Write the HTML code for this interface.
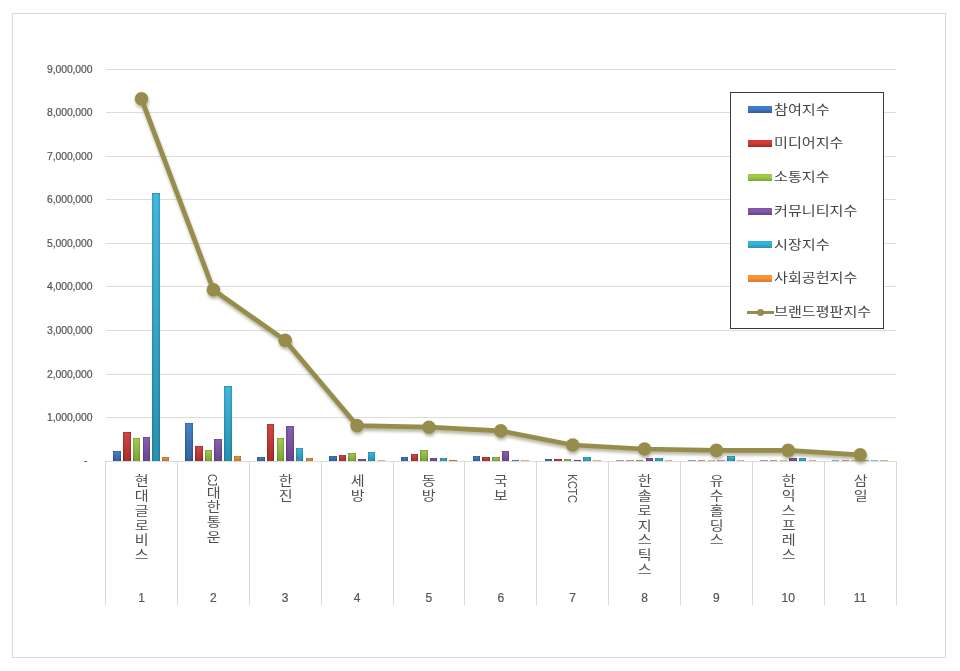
<!DOCTYPE html>
<html lang="ko"><head><meta charset="utf-8"><title>브랜드평판지수</title>
<style>
html,body{margin:0;padding:0;background:#fff;}
body{filter:blur(0.3px);width:960px;height:671px;position:relative;overflow:hidden;font-family:"Liberation Sans","Noto Sans CJK KR",sans-serif;}
.frame{position:absolute;left:12px;top:13px;width:932px;height:643px;border:1px solid #d9d9d9;}
.g{position:absolute;left:105.6px;width:790.4px;height:1px;background:#dcdcdc;}
.yl{position:absolute;left:30px;width:62.4px;text-align:right;font-size:10.4px;line-height:12px;color:#555;letter-spacing:-0.1px;-webkit-text-stroke:0.2px #555;}
.dv{position:absolute;top:461.2px;width:1px;height:144px;background:#d9d9d9;}
.b{position:absolute;width:7.5px;}
.cl{position:absolute;top:474.3px;width:20px;writing-mode:vertical-rl;text-orientation:mixed;font-size:12.8px;line-height:20px;color:#505050;white-space:nowrap;letter-spacing:2.0px;transform:scaleX(1.18);transform-origin:50% 0;}
.cl i{font-style:normal;font-size:10.9px;letter-spacing:-1.0px;position:relative;left:0.9px;}
.num{position:absolute;top:590.7px;width:40px;text-align:center;font-size:12px;line-height:14px;color:#555;-webkit-text-stroke:0.2px #555;}
.lg{position:absolute;left:730px;top:92px;width:151.5px;height:235px;border:1.5px solid #3a3a3a;background:#fff;}
.sw{position:absolute;left:748px;width:24px;height:7px;}
.lt{position:absolute;left:774.3px;font-size:12.8px;line-height:18px;color:#444;white-space:nowrap;transform:scaleX(1.18);transform-origin:0 50%;}
svg{position:absolute;left:0;top:0;}
</style></head><body>
<div class="frame"></div>

<div class="g" style="top:460.7px"></div>
<div class="yl" style="top:454.7px;left:25px">-</div>
<div class="g" style="top:417.1px"></div>
<div class="yl" style="top:412.0px">1,000,000</div>
<div class="g" style="top:373.6px"></div>
<div class="yl" style="top:368.5px">2,000,000</div>
<div class="g" style="top:330.0px"></div>
<div class="yl" style="top:324.9px">3,000,000</div>
<div class="g" style="top:286.4px"></div>
<div class="yl" style="top:281.3px">4,000,000</div>
<div class="g" style="top:242.9px"></div>
<div class="yl" style="top:237.8px">5,000,000</div>
<div class="g" style="top:199.3px"></div>
<div class="yl" style="top:194.2px">6,000,000</div>
<div class="g" style="top:155.7px"></div>
<div class="yl" style="top:150.6px">7,000,000</div>
<div class="g" style="top:112.2px"></div>
<div class="yl" style="top:107.1px">8,000,000</div>
<div class="g" style="top:68.6px"></div>
<div class="yl" style="top:63.5px">9,000,000</div>
<div class="dv" style="left:105.1px"></div>
<div class="dv" style="left:177.0px"></div>
<div class="dv" style="left:248.8px"></div>
<div class="dv" style="left:320.7px"></div>
<div class="dv" style="left:392.5px"></div>
<div class="dv" style="left:464.4px"></div>
<div class="dv" style="left:536.2px"></div>
<div class="dv" style="left:608.1px"></div>
<div class="dv" style="left:679.9px"></div>
<div class="dv" style="left:751.8px"></div>
<div class="dv" style="left:823.6px"></div>
<div class="dv" style="left:895.5px"></div>
<div class="b" style="left:113.4px;top:451.2px;height:10.0px;background:linear-gradient(180deg,rgba(0,0,0,.22) 0,rgba(0,0,0,0) 1.6px),linear-gradient(180deg,rgba(255,255,255,.06),rgba(0,0,0,.2)),linear-gradient(90deg,#2c5d98 0,#3d7bc6 25%,#3d7bc6 75%,#2c5d98 100%);"></div>
<div class="b" style="left:123.1px;top:431.8px;height:29.4px;background:linear-gradient(180deg,rgba(0,0,0,.22) 0,rgba(0,0,0,0) 1.6px),linear-gradient(180deg,rgba(255,255,255,.06),rgba(0,0,0,.2)),linear-gradient(90deg,#a1292b 0,#d23b36 25%,#d23b36 75%,#a1292b 100%);"></div>
<div class="b" style="left:132.8px;top:438.4px;height:22.8px;background:linear-gradient(180deg,rgba(0,0,0,.22) 0,rgba(0,0,0,0) 1.6px),linear-gradient(180deg,rgba(255,255,255,.06),rgba(0,0,0,.2)),linear-gradient(90deg,#7da23a 0,#9eca44 25%,#9eca44 75%,#7da23a 100%);"></div>
<div class="b" style="left:142.5px;top:437.4px;height:23.8px;background:linear-gradient(180deg,rgba(0,0,0,.22) 0,rgba(0,0,0,0) 1.6px),linear-gradient(180deg,rgba(255,255,255,.06),rgba(0,0,0,.2)),linear-gradient(90deg,#62418a 0,#8258ae 25%,#8258ae 75%,#62418a 100%);"></div>
<div class="b" style="left:152.2px;top:192.9px;height:268.3px;background:linear-gradient(180deg,rgba(0,0,0,.22) 0,rgba(0,0,0,0) 1.6px),linear-gradient(180deg,rgba(255,255,255,.06),rgba(0,0,0,.2)),linear-gradient(90deg,#2a90ae 0,#33b4de 25%,#33b4de 75%,#2a90ae 100%);"></div>
<div class="b" style="left:161.9px;top:456.8px;height:4.4px;background:linear-gradient(180deg,rgba(0,0,0,.22) 0,rgba(0,0,0,0) 1.6px),linear-gradient(180deg,rgba(255,255,255,.06),rgba(0,0,0,.2)),linear-gradient(90deg,#d97a22 0,#f7933a 25%,#f7933a 75%,#d97a22 100%);"></div>
<div class="cl" style="left:130.0px">현대글로비스</div>
<div class="num" style="left:121.5px">1</div>
<div class="b" style="left:185.3px;top:422.7px;height:38.5px;background:linear-gradient(180deg,rgba(0,0,0,.22) 0,rgba(0,0,0,0) 1.6px),linear-gradient(180deg,rgba(255,255,255,.06),rgba(0,0,0,.2)),linear-gradient(90deg,#2c5d98 0,#3d7bc6 25%,#3d7bc6 75%,#2c5d98 100%);"></div>
<div class="b" style="left:195.0px;top:445.8px;height:15.4px;background:linear-gradient(180deg,rgba(0,0,0,.22) 0,rgba(0,0,0,0) 1.6px),linear-gradient(180deg,rgba(255,255,255,.06),rgba(0,0,0,.2)),linear-gradient(90deg,#a1292b 0,#d23b36 25%,#d23b36 75%,#a1292b 100%);"></div>
<div class="b" style="left:204.7px;top:450.3px;height:10.9px;background:linear-gradient(180deg,rgba(0,0,0,.22) 0,rgba(0,0,0,0) 1.6px),linear-gradient(180deg,rgba(255,255,255,.06),rgba(0,0,0,.2)),linear-gradient(90deg,#7da23a 0,#9eca44 25%,#9eca44 75%,#7da23a 100%);"></div>
<div class="b" style="left:214.4px;top:439.3px;height:21.9px;background:linear-gradient(180deg,rgba(0,0,0,.22) 0,rgba(0,0,0,0) 1.6px),linear-gradient(180deg,rgba(255,255,255,.06),rgba(0,0,0,.2)),linear-gradient(90deg,#62418a 0,#8258ae 25%,#8258ae 75%,#62418a 100%);"></div>
<div class="b" style="left:224.1px;top:386.4px;height:74.8px;background:linear-gradient(180deg,rgba(0,0,0,.22) 0,rgba(0,0,0,0) 1.6px),linear-gradient(180deg,rgba(255,255,255,.06),rgba(0,0,0,.2)),linear-gradient(90deg,#2a90ae 0,#33b4de 25%,#33b4de 75%,#2a90ae 100%);"></div>
<div class="b" style="left:233.8px;top:455.9px;height:5.2px;background:linear-gradient(180deg,rgba(0,0,0,.22) 0,rgba(0,0,0,0) 1.6px),linear-gradient(180deg,rgba(255,255,255,.06),rgba(0,0,0,.2)),linear-gradient(90deg,#d97a22 0,#f7933a 25%,#f7933a 75%,#d97a22 100%);"></div>
<div class="cl" style="left:201.9px"><i>CJ</i>대한통운</div>
<div class="num" style="left:193.4px">2</div>
<div class="b" style="left:257.1px;top:457.1px;height:4.1px;background:linear-gradient(180deg,rgba(0,0,0,.22) 0,rgba(0,0,0,0) 1.6px),linear-gradient(180deg,rgba(255,255,255,.06),rgba(0,0,0,.2)),linear-gradient(90deg,#2c5d98 0,#3d7bc6 25%,#3d7bc6 75%,#2c5d98 100%);"></div>
<div class="b" style="left:266.8px;top:423.7px;height:37.5px;background:linear-gradient(180deg,rgba(0,0,0,.22) 0,rgba(0,0,0,0) 1.6px),linear-gradient(180deg,rgba(255,255,255,.06),rgba(0,0,0,.2)),linear-gradient(90deg,#a1292b 0,#d23b36 25%,#d23b36 75%,#a1292b 100%);"></div>
<div class="b" style="left:276.5px;top:438.4px;height:22.8px;background:linear-gradient(180deg,rgba(0,0,0,.22) 0,rgba(0,0,0,0) 1.6px),linear-gradient(180deg,rgba(255,255,255,.06),rgba(0,0,0,.2)),linear-gradient(90deg,#7da23a 0,#9eca44 25%,#9eca44 75%,#7da23a 100%);"></div>
<div class="b" style="left:286.2px;top:426.4px;height:34.8px;background:linear-gradient(180deg,rgba(0,0,0,.22) 0,rgba(0,0,0,0) 1.6px),linear-gradient(180deg,rgba(255,255,255,.06),rgba(0,0,0,.2)),linear-gradient(90deg,#62418a 0,#8258ae 25%,#8258ae 75%,#62418a 100%);"></div>
<div class="b" style="left:295.9px;top:448.4px;height:12.8px;background:linear-gradient(180deg,rgba(0,0,0,.22) 0,rgba(0,0,0,0) 1.6px),linear-gradient(180deg,rgba(255,255,255,.06),rgba(0,0,0,.2)),linear-gradient(90deg,#2a90ae 0,#33b4de 25%,#33b4de 75%,#2a90ae 100%);"></div>
<div class="b" style="left:305.6px;top:457.7px;height:3.5px;background:linear-gradient(180deg,rgba(0,0,0,.22) 0,rgba(0,0,0,0) 1.6px),linear-gradient(180deg,rgba(255,255,255,.06),rgba(0,0,0,.2)),linear-gradient(90deg,#d97a22 0,#f7933a 25%,#f7933a 75%,#d97a22 100%);"></div>
<div class="cl" style="left:273.7px">한진</div>
<div class="num" style="left:265.2px">3</div>
<div class="b" style="left:329.0px;top:456.2px;height:5.0px;background:linear-gradient(180deg,rgba(0,0,0,.22) 0,rgba(0,0,0,0) 1.6px),linear-gradient(180deg,rgba(255,255,255,.06),rgba(0,0,0,.2)),linear-gradient(90deg,#2c5d98 0,#3d7bc6 25%,#3d7bc6 75%,#2c5d98 100%);"></div>
<div class="b" style="left:338.7px;top:454.9px;height:6.2px;background:linear-gradient(180deg,rgba(0,0,0,.22) 0,rgba(0,0,0,0) 1.6px),linear-gradient(180deg,rgba(255,255,255,.06),rgba(0,0,0,.2)),linear-gradient(90deg,#a1292b 0,#d23b36 25%,#d23b36 75%,#a1292b 100%);"></div>
<div class="b" style="left:348.4px;top:453.4px;height:7.8px;background:linear-gradient(180deg,rgba(0,0,0,.22) 0,rgba(0,0,0,0) 1.6px),linear-gradient(180deg,rgba(255,255,255,.06),rgba(0,0,0,.2)),linear-gradient(90deg,#7da23a 0,#9eca44 25%,#9eca44 75%,#7da23a 100%);"></div>
<div class="b" style="left:358.1px;top:458.7px;height:2.5px;background:linear-gradient(180deg,rgba(0,0,0,.22) 0,rgba(0,0,0,0) 1.6px),linear-gradient(180deg,rgba(255,255,255,.06),rgba(0,0,0,.2)),linear-gradient(90deg,#62418a 0,#8258ae 25%,#8258ae 75%,#62418a 100%);"></div>
<div class="b" style="left:367.8px;top:452.4px;height:8.8px;background:linear-gradient(180deg,rgba(0,0,0,.22) 0,rgba(0,0,0,0) 1.6px),linear-gradient(180deg,rgba(255,255,255,.06),rgba(0,0,0,.2)),linear-gradient(90deg,#2a90ae 0,#33b4de 25%,#33b4de 75%,#2a90ae 100%);"></div>
<div class="b" style="left:377.5px;top:460.2px;height:1.0px;background:linear-gradient(180deg,rgba(0,0,0,.22) 0,rgba(0,0,0,0) 1.6px),linear-gradient(180deg,rgba(255,255,255,.06),rgba(0,0,0,.2)),linear-gradient(90deg,#d97a22 0,#f7933a 25%,#f7933a 75%,#d97a22 100%); opacity:.55;"></div>
<div class="cl" style="left:345.6px">세방</div>
<div class="num" style="left:337.1px">4</div>
<div class="b" style="left:400.8px;top:456.8px;height:4.4px;background:linear-gradient(180deg,rgba(0,0,0,.22) 0,rgba(0,0,0,0) 1.6px),linear-gradient(180deg,rgba(255,255,255,.06),rgba(0,0,0,.2)),linear-gradient(90deg,#2c5d98 0,#3d7bc6 25%,#3d7bc6 75%,#2c5d98 100%);"></div>
<div class="b" style="left:410.5px;top:454.1px;height:7.1px;background:linear-gradient(180deg,rgba(0,0,0,.22) 0,rgba(0,0,0,0) 1.6px),linear-gradient(180deg,rgba(255,255,255,.06),rgba(0,0,0,.2)),linear-gradient(90deg,#a1292b 0,#d23b36 25%,#d23b36 75%,#a1292b 100%);"></div>
<div class="b" style="left:420.2px;top:450.3px;height:10.9px;background:linear-gradient(180deg,rgba(0,0,0,.22) 0,rgba(0,0,0,0) 1.6px),linear-gradient(180deg,rgba(255,255,255,.06),rgba(0,0,0,.2)),linear-gradient(90deg,#7da23a 0,#9eca44 25%,#9eca44 75%,#7da23a 100%);"></div>
<div class="b" style="left:429.9px;top:457.7px;height:3.5px;background:linear-gradient(180deg,rgba(0,0,0,.22) 0,rgba(0,0,0,0) 1.6px),linear-gradient(180deg,rgba(255,255,255,.06),rgba(0,0,0,.2)),linear-gradient(90deg,#62418a 0,#8258ae 25%,#8258ae 75%,#62418a 100%);"></div>
<div class="b" style="left:439.6px;top:457.7px;height:3.5px;background:linear-gradient(180deg,rgba(0,0,0,.22) 0,rgba(0,0,0,0) 1.6px),linear-gradient(180deg,rgba(255,255,255,.06),rgba(0,0,0,.2)),linear-gradient(90deg,#2a90ae 0,#33b4de 25%,#33b4de 75%,#2a90ae 100%);"></div>
<div class="b" style="left:449.3px;top:459.7px;height:1.5px;background:linear-gradient(180deg,rgba(0,0,0,.22) 0,rgba(0,0,0,0) 1.6px),linear-gradient(180deg,rgba(255,255,255,.06),rgba(0,0,0,.2)),linear-gradient(90deg,#d97a22 0,#f7933a 25%,#f7933a 75%,#d97a22 100%);"></div>
<div class="cl" style="left:417.4px">동방</div>
<div class="num" style="left:408.9px">5</div>
<div class="b" style="left:472.7px;top:455.9px;height:5.2px;background:linear-gradient(180deg,rgba(0,0,0,.22) 0,rgba(0,0,0,0) 1.6px),linear-gradient(180deg,rgba(255,255,255,.06),rgba(0,0,0,.2)),linear-gradient(90deg,#2c5d98 0,#3d7bc6 25%,#3d7bc6 75%,#2c5d98 100%);"></div>
<div class="b" style="left:482.4px;top:456.8px;height:4.4px;background:linear-gradient(180deg,rgba(0,0,0,.22) 0,rgba(0,0,0,0) 1.6px),linear-gradient(180deg,rgba(255,255,255,.06),rgba(0,0,0,.2)),linear-gradient(90deg,#a1292b 0,#d23b36 25%,#d23b36 75%,#a1292b 100%);"></div>
<div class="b" style="left:492.1px;top:456.8px;height:4.4px;background:linear-gradient(180deg,rgba(0,0,0,.22) 0,rgba(0,0,0,0) 1.6px),linear-gradient(180deg,rgba(255,255,255,.06),rgba(0,0,0,.2)),linear-gradient(90deg,#7da23a 0,#9eca44 25%,#9eca44 75%,#7da23a 100%);"></div>
<div class="b" style="left:501.8px;top:451.2px;height:10.0px;background:linear-gradient(180deg,rgba(0,0,0,.22) 0,rgba(0,0,0,0) 1.6px),linear-gradient(180deg,rgba(255,255,255,.06),rgba(0,0,0,.2)),linear-gradient(90deg,#62418a 0,#8258ae 25%,#8258ae 75%,#62418a 100%);"></div>
<div class="b" style="left:511.5px;top:459.7px;height:1.5px;background:linear-gradient(180deg,rgba(0,0,0,.22) 0,rgba(0,0,0,0) 1.6px),linear-gradient(180deg,rgba(255,255,255,.06),rgba(0,0,0,.2)),linear-gradient(90deg,#2a90ae 0,#33b4de 25%,#33b4de 75%,#2a90ae 100%);"></div>
<div class="b" style="left:521.2px;top:460.3px;height:0.9px;background:linear-gradient(180deg,rgba(0,0,0,.22) 0,rgba(0,0,0,0) 1.6px),linear-gradient(180deg,rgba(255,255,255,.06),rgba(0,0,0,.2)),linear-gradient(90deg,#d97a22 0,#f7933a 25%,#f7933a 75%,#d97a22 100%); opacity:.55;"></div>
<div class="cl" style="left:489.3px">국보</div>
<div class="num" style="left:480.8px">6</div>
<div class="b" style="left:544.5px;top:458.7px;height:2.5px;background:linear-gradient(180deg,rgba(0,0,0,.22) 0,rgba(0,0,0,0) 1.6px),linear-gradient(180deg,rgba(255,255,255,.06),rgba(0,0,0,.2)),linear-gradient(90deg,#2c5d98 0,#3d7bc6 25%,#3d7bc6 75%,#2c5d98 100%);"></div>
<div class="b" style="left:554.2px;top:458.7px;height:2.5px;background:linear-gradient(180deg,rgba(0,0,0,.22) 0,rgba(0,0,0,0) 1.6px),linear-gradient(180deg,rgba(255,255,255,.06),rgba(0,0,0,.2)),linear-gradient(90deg,#a1292b 0,#d23b36 25%,#d23b36 75%,#a1292b 100%);"></div>
<div class="b" style="left:563.9px;top:458.7px;height:2.5px;background:linear-gradient(180deg,rgba(0,0,0,.22) 0,rgba(0,0,0,0) 1.6px),linear-gradient(180deg,rgba(255,255,255,.06),rgba(0,0,0,.2)),linear-gradient(90deg,#7da23a 0,#9eca44 25%,#9eca44 75%,#7da23a 100%);"></div>
<div class="b" style="left:573.6px;top:459.7px;height:1.5px;background:linear-gradient(180deg,rgba(0,0,0,.22) 0,rgba(0,0,0,0) 1.6px),linear-gradient(180deg,rgba(255,255,255,.06),rgba(0,0,0,.2)),linear-gradient(90deg,#62418a 0,#8258ae 25%,#8258ae 75%,#62418a 100%);"></div>
<div class="b" style="left:583.3px;top:456.8px;height:4.4px;background:linear-gradient(180deg,rgba(0,0,0,.22) 0,rgba(0,0,0,0) 1.6px),linear-gradient(180deg,rgba(255,255,255,.06),rgba(0,0,0,.2)),linear-gradient(90deg,#2a90ae 0,#33b4de 25%,#33b4de 75%,#2a90ae 100%);"></div>
<div class="b" style="left:593.0px;top:460.3px;height:0.9px;background:linear-gradient(180deg,rgba(0,0,0,.22) 0,rgba(0,0,0,0) 1.6px),linear-gradient(180deg,rgba(255,255,255,.06),rgba(0,0,0,.2)),linear-gradient(90deg,#d97a22 0,#f7933a 25%,#f7933a 75%,#d97a22 100%); opacity:.55;"></div>
<div class="cl" style="left:561.2px"><i style="letter-spacing:-0.3px;left:1.2px">KCTC</i></div>
<div class="num" style="left:552.7px">7</div>
<div class="b" style="left:616.4px;top:460.3px;height:0.9px;background:linear-gradient(180deg,rgba(0,0,0,.22) 0,rgba(0,0,0,0) 1.6px),linear-gradient(180deg,rgba(255,255,255,.06),rgba(0,0,0,.2)),linear-gradient(90deg,#2c5d98 0,#3d7bc6 25%,#3d7bc6 75%,#2c5d98 100%); opacity:.55;"></div>
<div class="b" style="left:626.1px;top:460.3px;height:0.9px;background:linear-gradient(180deg,rgba(0,0,0,.22) 0,rgba(0,0,0,0) 1.6px),linear-gradient(180deg,rgba(255,255,255,.06),rgba(0,0,0,.2)),linear-gradient(90deg,#a1292b 0,#d23b36 25%,#d23b36 75%,#a1292b 100%); opacity:.55;"></div>
<div class="b" style="left:635.8px;top:460.0px;height:1.2px;background:linear-gradient(180deg,rgba(0,0,0,.22) 0,rgba(0,0,0,0) 1.6px),linear-gradient(180deg,rgba(255,255,255,.06),rgba(0,0,0,.2)),linear-gradient(90deg,#7da23a 0,#9eca44 25%,#9eca44 75%,#7da23a 100%);"></div>
<div class="b" style="left:645.5px;top:457.7px;height:3.5px;background:linear-gradient(180deg,rgba(0,0,0,.22) 0,rgba(0,0,0,0) 1.6px),linear-gradient(180deg,rgba(255,255,255,.06),rgba(0,0,0,.2)),linear-gradient(90deg,#62418a 0,#8258ae 25%,#8258ae 75%,#62418a 100%);"></div>
<div class="b" style="left:655.2px;top:458.4px;height:2.8px;background:linear-gradient(180deg,rgba(0,0,0,.22) 0,rgba(0,0,0,0) 1.6px),linear-gradient(180deg,rgba(255,255,255,.06),rgba(0,0,0,.2)),linear-gradient(90deg,#2a90ae 0,#33b4de 25%,#33b4de 75%,#2a90ae 100%);"></div>
<div class="b" style="left:664.9px;top:460.3px;height:0.9px;background:linear-gradient(180deg,rgba(0,0,0,.22) 0,rgba(0,0,0,0) 1.6px),linear-gradient(180deg,rgba(255,255,255,.06),rgba(0,0,0,.2)),linear-gradient(90deg,#d97a22 0,#f7933a 25%,#f7933a 75%,#d97a22 100%); opacity:.55;"></div>
<div class="cl" style="left:633.0px">한솔로지스틱스</div>
<div class="num" style="left:624.5px">8</div>
<div class="b" style="left:688.2px;top:460.3px;height:0.9px;background:linear-gradient(180deg,rgba(0,0,0,.22) 0,rgba(0,0,0,0) 1.6px),linear-gradient(180deg,rgba(255,255,255,.06),rgba(0,0,0,.2)),linear-gradient(90deg,#2c5d98 0,#3d7bc6 25%,#3d7bc6 75%,#2c5d98 100%); opacity:.55;"></div>
<div class="b" style="left:697.9px;top:460.3px;height:0.9px;background:linear-gradient(180deg,rgba(0,0,0,.22) 0,rgba(0,0,0,0) 1.6px),linear-gradient(180deg,rgba(255,255,255,.06),rgba(0,0,0,.2)),linear-gradient(90deg,#a1292b 0,#d23b36 25%,#d23b36 75%,#a1292b 100%); opacity:.55;"></div>
<div class="b" style="left:707.6px;top:460.3px;height:0.9px;background:linear-gradient(180deg,rgba(0,0,0,.22) 0,rgba(0,0,0,0) 1.6px),linear-gradient(180deg,rgba(255,255,255,.06),rgba(0,0,0,.2)),linear-gradient(90deg,#7da23a 0,#9eca44 25%,#9eca44 75%,#7da23a 100%); opacity:.55;"></div>
<div class="b" style="left:717.3px;top:460.3px;height:0.9px;background:linear-gradient(180deg,rgba(0,0,0,.22) 0,rgba(0,0,0,0) 1.6px),linear-gradient(180deg,rgba(255,255,255,.06),rgba(0,0,0,.2)),linear-gradient(90deg,#62418a 0,#8258ae 25%,#8258ae 75%,#62418a 100%); opacity:.55;"></div>
<div class="b" style="left:727.0px;top:456.2px;height:5.0px;background:linear-gradient(180deg,rgba(0,0,0,.22) 0,rgba(0,0,0,0) 1.6px),linear-gradient(180deg,rgba(255,255,255,.06),rgba(0,0,0,.2)),linear-gradient(90deg,#2a90ae 0,#33b4de 25%,#33b4de 75%,#2a90ae 100%);"></div>
<div class="b" style="left:736.7px;top:460.3px;height:0.9px;background:linear-gradient(180deg,rgba(0,0,0,.22) 0,rgba(0,0,0,0) 1.6px),linear-gradient(180deg,rgba(255,255,255,.06),rgba(0,0,0,.2)),linear-gradient(90deg,#d97a22 0,#f7933a 25%,#f7933a 75%,#d97a22 100%); opacity:.55;"></div>
<div class="cl" style="left:704.9px">유수홀딩스</div>
<div class="num" style="left:696.4px">9</div>
<div class="b" style="left:760.1px;top:460.3px;height:0.9px;background:linear-gradient(180deg,rgba(0,0,0,.22) 0,rgba(0,0,0,0) 1.6px),linear-gradient(180deg,rgba(255,255,255,.06),rgba(0,0,0,.2)),linear-gradient(90deg,#2c5d98 0,#3d7bc6 25%,#3d7bc6 75%,#2c5d98 100%); opacity:.55;"></div>
<div class="b" style="left:769.8px;top:460.3px;height:0.9px;background:linear-gradient(180deg,rgba(0,0,0,.22) 0,rgba(0,0,0,0) 1.6px),linear-gradient(180deg,rgba(255,255,255,.06),rgba(0,0,0,.2)),linear-gradient(90deg,#a1292b 0,#d23b36 25%,#d23b36 75%,#a1292b 100%); opacity:.55;"></div>
<div class="b" style="left:779.5px;top:460.3px;height:0.9px;background:linear-gradient(180deg,rgba(0,0,0,.22) 0,rgba(0,0,0,0) 1.6px),linear-gradient(180deg,rgba(255,255,255,.06),rgba(0,0,0,.2)),linear-gradient(90deg,#7da23a 0,#9eca44 25%,#9eca44 75%,#7da23a 100%); opacity:.55;"></div>
<div class="b" style="left:789.2px;top:458.4px;height:2.8px;background:linear-gradient(180deg,rgba(0,0,0,.22) 0,rgba(0,0,0,0) 1.6px),linear-gradient(180deg,rgba(255,255,255,.06),rgba(0,0,0,.2)),linear-gradient(90deg,#62418a 0,#8258ae 25%,#8258ae 75%,#62418a 100%);"></div>
<div class="b" style="left:798.9px;top:458.4px;height:2.8px;background:linear-gradient(180deg,rgba(0,0,0,.22) 0,rgba(0,0,0,0) 1.6px),linear-gradient(180deg,rgba(255,255,255,.06),rgba(0,0,0,.2)),linear-gradient(90deg,#2a90ae 0,#33b4de 25%,#33b4de 75%,#2a90ae 100%);"></div>
<div class="b" style="left:808.6px;top:460.3px;height:0.9px;background:linear-gradient(180deg,rgba(0,0,0,.22) 0,rgba(0,0,0,0) 1.6px),linear-gradient(180deg,rgba(255,255,255,.06),rgba(0,0,0,.2)),linear-gradient(90deg,#d97a22 0,#f7933a 25%,#f7933a 75%,#d97a22 100%); opacity:.55;"></div>
<div class="cl" style="left:776.7px">한익스프레스</div>
<div class="num" style="left:768.2px">10</div>
<div class="b" style="left:831.9px;top:460.2px;height:1.0px;background:linear-gradient(180deg,rgba(0,0,0,.22) 0,rgba(0,0,0,0) 1.6px),linear-gradient(180deg,rgba(255,255,255,.06),rgba(0,0,0,.2)),linear-gradient(90deg,#2c5d98 0,#3d7bc6 25%,#3d7bc6 75%,#2c5d98 100%); opacity:.55;"></div>
<div class="b" style="left:841.6px;top:460.2px;height:1.0px;background:linear-gradient(180deg,rgba(0,0,0,.22) 0,rgba(0,0,0,0) 1.6px),linear-gradient(180deg,rgba(255,255,255,.06),rgba(0,0,0,.2)),linear-gradient(90deg,#a1292b 0,#d23b36 25%,#d23b36 75%,#a1292b 100%); opacity:.55;"></div>
<div class="b" style="left:851.3px;top:460.3px;height:0.9px;background:linear-gradient(180deg,rgba(0,0,0,.22) 0,rgba(0,0,0,0) 1.6px),linear-gradient(180deg,rgba(255,255,255,.06),rgba(0,0,0,.2)),linear-gradient(90deg,#7da23a 0,#9eca44 25%,#9eca44 75%,#7da23a 100%); opacity:.55;"></div>
<div class="b" style="left:861.0px;top:460.3px;height:0.9px;background:linear-gradient(180deg,rgba(0,0,0,.22) 0,rgba(0,0,0,0) 1.6px),linear-gradient(180deg,rgba(255,255,255,.06),rgba(0,0,0,.2)),linear-gradient(90deg,#62418a 0,#8258ae 25%,#8258ae 75%,#62418a 100%); opacity:.55;"></div>
<div class="b" style="left:870.7px;top:460.3px;height:0.9px;background:linear-gradient(180deg,rgba(0,0,0,.22) 0,rgba(0,0,0,0) 1.6px),linear-gradient(180deg,rgba(255,255,255,.06),rgba(0,0,0,.2)),linear-gradient(90deg,#2a90ae 0,#33b4de 25%,#33b4de 75%,#2a90ae 100%); opacity:.55;"></div>
<div class="b" style="left:880.4px;top:460.3px;height:0.9px;background:linear-gradient(180deg,rgba(0,0,0,.22) 0,rgba(0,0,0,0) 1.6px),linear-gradient(180deg,rgba(255,255,255,.06),rgba(0,0,0,.2)),linear-gradient(90deg,#d97a22 0,#f7933a 25%,#f7933a 75%,#d97a22 100%); opacity:.55;"></div>
<div class="cl" style="left:848.6px">삼일</div>
<div class="num" style="left:840.1px">11</div>
<svg width="960" height="671" viewBox="0 0 960 671"><defs><filter id="sh" x="-5%" y="-5%" width="110%" height="115%"><feGaussianBlur stdDeviation="1.6"/></filter></defs>
<g opacity=".42" transform="translate(0.6,2.6)" filter="url(#sh)"><polyline points="141.5,98.8 213.4,289.8 285.2,340.4 357.1,425.6 428.9,427.2 500.8,430.9 572.7,445.0 644.5,449.0 716.4,450.4 788.2,450.4 860.1,454.8" fill="none" stroke="#5e5930" stroke-width="5"/><circle cx="141.5" cy="98.8" r="6.8" fill="#5e5930"/><circle cx="213.4" cy="289.8" r="6.8" fill="#5e5930"/><circle cx="285.2" cy="340.4" r="6.8" fill="#5e5930"/><circle cx="357.1" cy="425.6" r="6.8" fill="#5e5930"/><circle cx="428.9" cy="427.2" r="6.8" fill="#5e5930"/><circle cx="500.8" cy="430.9" r="6.8" fill="#5e5930"/><circle cx="572.7" cy="445.0" r="6.8" fill="#5e5930"/><circle cx="644.5" cy="449.0" r="6.8" fill="#5e5930"/><circle cx="716.4" cy="450.4" r="6.8" fill="#5e5930"/><circle cx="788.2" cy="450.4" r="6.8" fill="#5e5930"/><circle cx="860.1" cy="454.8" r="6.8" fill="#5e5930"/></g>
<polyline points="141.5,98.8 213.4,289.8 285.2,340.4 357.1,425.6 428.9,427.2 500.8,430.9 572.7,445.0 644.5,449.0 716.4,450.4 788.2,450.4 860.1,454.8" fill="none" stroke="#968d4d" stroke-width="4.7" stroke-linejoin="round"/>
<circle cx="141.5" cy="98.8" r="6.8" fill="#968d4d"/>
<circle cx="213.4" cy="289.8" r="6.8" fill="#968d4d"/>
<circle cx="285.2" cy="340.4" r="6.8" fill="#968d4d"/>
<circle cx="357.1" cy="425.6" r="6.8" fill="#968d4d"/>
<circle cx="428.9" cy="427.2" r="6.8" fill="#968d4d"/>
<circle cx="500.8" cy="430.9" r="6.8" fill="#968d4d"/>
<circle cx="572.7" cy="445.0" r="6.8" fill="#968d4d"/>
<circle cx="644.5" cy="449.0" r="6.8" fill="#968d4d"/>
<circle cx="716.4" cy="450.4" r="6.8" fill="#968d4d"/>
<circle cx="788.2" cy="450.4" r="6.8" fill="#968d4d"/>
<circle cx="860.1" cy="454.8" r="6.8" fill="#968d4d"/>
</svg>
<div class="lg"></div>
<div class="sw" style="top:106.3px;background:linear-gradient(180deg,#3d7bc6 0,#3d7bc6 45%,#2c5d98 100%)"></div>
<div class="lt" style="top:100.6px">참여지수</div>
<div class="sw" style="top:140.1px;background:linear-gradient(180deg,#d23b36 0,#d23b36 45%,#a1292b 100%)"></div>
<div class="lt" style="top:134.4px">미디어지수</div>
<div class="sw" style="top:173.8px;background:linear-gradient(180deg,#9eca44 0,#9eca44 45%,#7da23a 100%)"></div>
<div class="lt" style="top:168.1px">소통지수</div>
<div class="sw" style="top:207.6px;background:linear-gradient(180deg,#8258ae 0,#8258ae 45%,#62418a 100%)"></div>
<div class="lt" style="top:201.9px">커뮤니티지수</div>
<div class="sw" style="top:241.3px;background:linear-gradient(180deg,#33b4de 0,#33b4de 45%,#2a90ae 100%)"></div>
<div class="lt" style="top:235.6px">시장지수</div>
<div class="sw" style="top:275.1px;background:linear-gradient(180deg,#f7933a 0,#f7933a 45%,#d97a22 100%)"></div>
<div class="lt" style="top:269.4px">사회공헌지수</div>
<div style="position:absolute;left:746.5px;top:310.8px;width:27px;height:3px;background:#968d4d"></div>
<div style="position:absolute;left:756.8px;top:308.8px;width:7px;height:7px;border-radius:50%;background:#968d4d"></div>
<div class="lt" style="top:303.1px">브랜드평판지수</div>
</body></html>
